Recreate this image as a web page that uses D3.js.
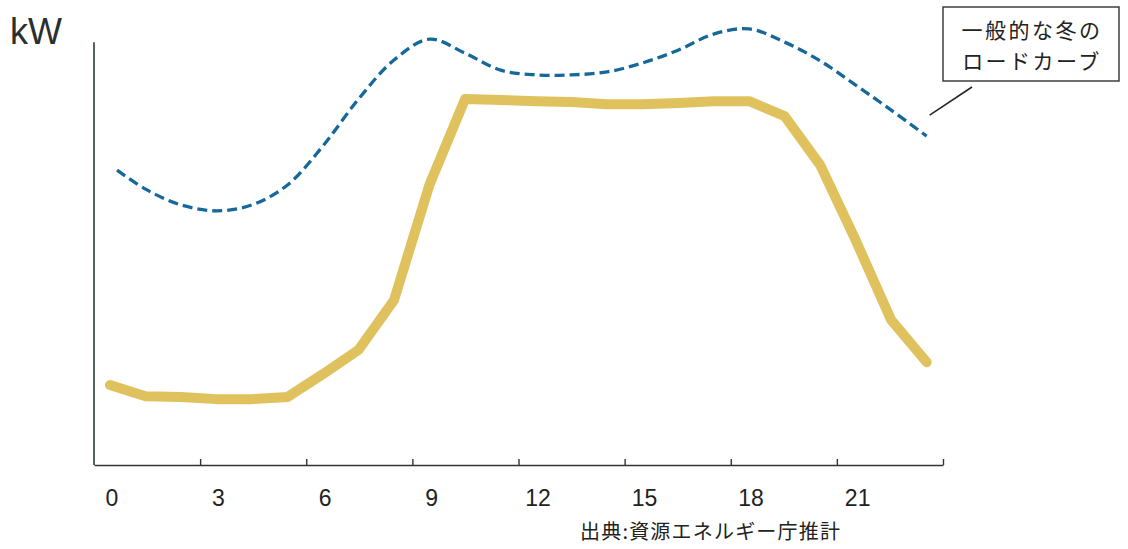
<!DOCTYPE html>
<html>
<head>
<meta charset="utf-8">
<script src="https://cdn.jsdelivr.net/npm/d3@7"></script>
<style>
  html, body { margin: 0; padding: 0; background: #ffffff; }
  svg { display: block; }
</style>
</head>
<body>
<script>
// ---- data ----
const hours = d3.range(0, 24);
// Yellow solid line (demand profile), arbitrary kW units
const solidValues = [18.8, 16.2, 16.0, 15.5, 15.5, 16.0, 21.4, 27.1, 38.8, 66.0, 86.1, 85.9,
                     85.6, 85.4, 84.9, 84.9, 85.2, 85.6, 85.6, 82.1, 70.6, 52.9, 34.1, 24.2];
// Blue dashed line: typical winter load curve
const winterHours = [0.2, 1, 2, 3, 4, 5, 6, 7, 8, 9, 10, 11, 12, 13, 14, 15, 16, 17, 18, 19, 20, 21, 22, 23];
const winterValues = [69.4, 64.9, 61.2, 59.8, 61.2, 65.9, 75.1, 86.1, 95.3, 100.2, 96.9, 92.9,
                      91.8, 91.8, 92.5, 94.6, 97.6, 101.4, 102.6, 99.5, 95.1, 89.4, 83.5, 77.4];
const tickLabels = ["0", "3", "6", "9", "12", "15", "18", "21"];
const tickLabelHours = [0, 3, 6, 9, 12, 15, 18, 21];
const axisSegments = 8;
const yUnit = "kW";
const legendLines = ["一般的な冬の", "ロードカーブ"];
const sourceText = "出典:資源エネルギー庁推計";

// ---- layout ----
const W = 1128, H = 549;
const svg = d3.select("body").append("svg").attr("width", W).attr("height", H);

const x = d3.scaleLinear().domain([-0.45, 23.46]).range([94, 943]);
const y = d3.scaleLinear().domain([0, 100]).range([465, 40]);
const seg = d3.scaleLinear().domain([0, axisSegments]).range([94, 943]);

// Y axis line
svg.append("line")
  .attr("x1", x(-0.45)).attr("x2", x(-0.45))
  .attr("y1", y(99.5)).attr("y2", y(0))
  .attr("stroke", "#2f3b3b").attr("stroke-width", 1.6);

// X axis with inward ticks
const xAxis = d3.axisTop(seg)
  .tickValues(d3.range(1, axisSegments + 1))
  .tickSize(6)
  .tickSizeOuter(0)
  .tickFormat("");
const gx = svg.append("g").attr("transform", `translate(0,${y(0)})`).call(xAxis);
gx.select(".domain").attr("stroke", "#333").attr("stroke-width", 1.6);
gx.selectAll(".tick line").attr("stroke", "#333").attr("stroke-width", 1.4);

// X tick labels
svg.append("g").selectAll("text")
  .data(tickLabelHours)
  .join("text")
  .attr("x", (d) => x(d) + 2)
  .attr("y", 506)
  .attr("text-anchor", "middle")
  .attr("font-family", "Liberation Sans, Arial, sans-serif")
  .attr("font-size", 23)
  .attr("fill", "#222")
  .text((d, i) => tickLabels[i]);

// Unit label
svg.append("text")
  .attr("x", 10).attr("y", 44)
  .attr("font-family", "Liberation Sans, Arial, sans-serif")
  .attr("font-size", 36)
  .attr("fill", "#2a2f2f")
  .text(yUnit);

// Winter load curve (dashed)
const winterLine = d3.line()
  .x((d, i) => x(winterHours[i]))
  .y((d) => y(d))
  .curve(d3.curveCatmullRom.alpha(0.5));
svg.append("path")
  .datum(winterValues)
  .attr("d", winterLine)
  .attr("fill", "none")
  .attr("stroke", "#16689a")
  .attr("stroke-width", 3.3)
  .attr("stroke-dasharray", "10,5");

// Solid demand line
const solidLine = d3.line()
  .x((d, i) => x(hours[i]))
  .y((d) => y(d))
  .curve(d3.curveLinear);
svg.append("path")
  .datum(solidValues)
  .attr("d", solidLine)
  .attr("fill", "none")
  .attr("stroke", "#dfc25e")
  .attr("stroke-width", 10)
  .attr("stroke-linecap", "round")
  .attr("stroke-linejoin", "round");

// Legend box with leader line
const box = { x: 943, y: 7, w: 176, h: 74 };
svg.append("rect")
  .attr("x", box.x).attr("y", box.y).attr("width", box.w).attr("height", box.h)
  .attr("fill", "#fff").attr("stroke", "#333").attr("stroke-width", 1.4);
svg.append("g").selectAll("text")
  .data(legendLines)
  .join("text")
  .attr("x", box.x + box.w / 2 + 1)
  .attr("y", (d, i) => box.y + 31 + i * 31)
  .attr("text-anchor", "middle")
  .attr("font-family", "Noto Sans CJK JP, sans-serif")
  .attr("font-size", 21)
  .attr("letter-spacing", 2.5)
  .attr("fill", "#222")
  .text((d) => d);
// leader from box toward end of the winter curve
const endX = x(winterHours[winterHours.length - 1]);
const endY = y(winterValues[winterValues.length - 1]);
svg.append("line")
  .attr("x1", endX + 3).attr("y1", endY - 21)
  .attr("x2", box.x + 29).attr("y2", box.y + 80)
  .attr("stroke", "#222").attr("stroke-width", 1.5);

// Source
svg.append("text")
  .attr("x", 580).attr("y", 539)
  .attr("font-family", "Noto Sans CJK JP, sans-serif")
  .attr("font-size", 20)
  .attr("letter-spacing", 1.2)
  .attr("fill", "#222")
  .text(sourceText);
</script>
</body>
</html>
